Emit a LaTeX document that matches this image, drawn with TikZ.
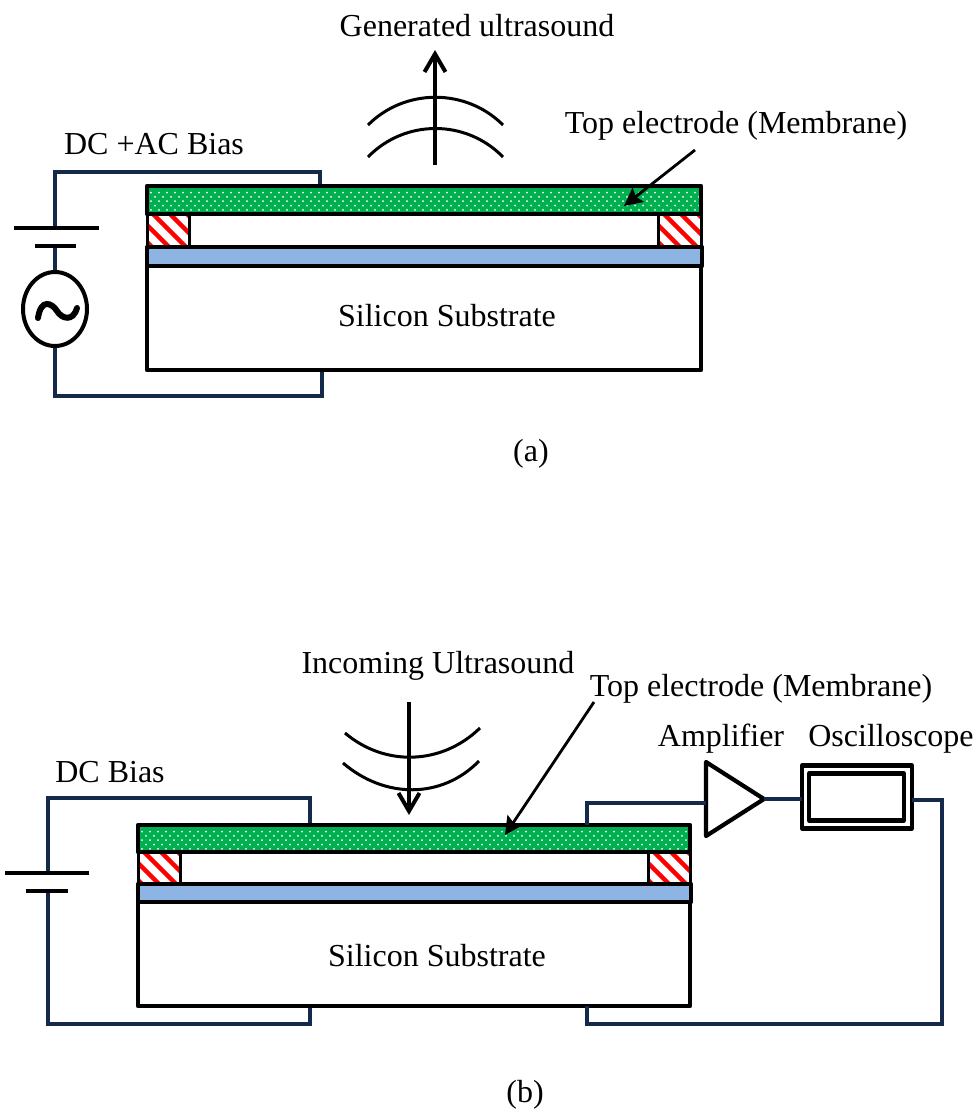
\documentclass[tikz,border=0pt]{standalone}
\usepackage{fontspec}
\setmainfont{Liberation Serif}
\usetikzlibrary{arrows.meta,shapes.geometric}
\definecolor{wirec}{HTML}{15294B}
\definecolor{memc}{HTML}{00B050}
\definecolor{bluec}{HTML}{8EB4E3}
\tikzset{
  lbl/.style={inner sep=0pt,font=\fontsize{32}{34}\selectfont,anchor=center},
  wire/.style={draw=wirec,line width=3.6pt,line join=miter},
  blk/.style={draw=black,line width=4.2pt,line join=round},
  plate/.style={draw=black,line width=4.2pt},
  wave/.style={draw=black,line width=3pt},
  bigarrow/.style={draw=black,line width=4pt,-{Straight Barb[length=18pt,width=21pt,line width=4pt]}},
  thinarrow/.style={draw=black,line width=2.8pt,-{Stealth[length=18pt,width=18pt,inset=3pt]}}
}
% #1 left, #2 right, #3 top, #4 bottom
\newcommand{\memfill}[4]{%
  \fill[memc] (#1,#3) rectangle (#2,#4);
  \begin{scope}
    \clip (#1,#3) rectangle (#2,#4);
    \foreach \yy [count=\rr] in {0,...,4}{
      \pgfmathsetmacro{\ofs}{mod(\rr,2)*4}
      \foreach \xx in {0,...,70}{
        \fill[white] ({#1+\xx*8+\ofs},{#3+6.6+\yy*4.3}) circle (1pt);
      }
    }
  \end{scope}
}
\newcommand{\postfill}[4]{%
  \fill[white] (#1,#3) rectangle (#2,#4);
  \begin{scope}
    \clip (#1,#3) rectangle (#2,#4);
    \foreach \dd in {-45,-28,...,40}{
      \draw[red,line width=4.4pt] ({#1+\dd},#3) -- ({#1+\dd+36},{#3+36});
    }
  \end{scope}
}
\begin{document}
\begin{tikzpicture}[x=1pt,y=-1pt]
\useasboundingbox (0,0) rectangle (978,1109);

% ============ (a) ============
\node[lbl] (ta1) at (477,26) {Generated ultrasound};
\node[lbl] (ta2) at (736,126) {Top electrode (Membrane)};
\node[lbl] (ta3) at (154,144) {DC +AC Bias};
\node[lbl] (ta4) at (447,316) {Silicon Substrate};
\node[lbl] (ta5) at (531,454) {(a)};

\coordinate (aTopPt) at (320,186);
\coordinate (aTopCor) at (320,172);
\coordinate (aLeftCor) at (55,172);
\coordinate (aBat1) at (55,228);
\coordinate (aBat2) at (55,246);
\coordinate (aBotCor) at (55,396);
\coordinate (aBotRight) at (322,396);
\coordinate (aBotPt) at (322,370);

\draw[wire] (aTopPt) -- (aTopCor) -- (aLeftCor) -- (aBat1);
\node[draw=black,line width=4pt,ellipse,minimum width=64pt,minimum height=74pt,inner sep=0pt,fill=white] (aAC) at (55,309) {};
\draw[wire] (aBat2) -- (aAC.north);
\draw[wire] (aAC.south) -- (aBotCor) -- (aBotRight) -- (aBotPt);
\draw[plate] (14,228) -- (99,228);
\draw[plate] (35,246) -- (76,246);
\draw[black,line width=6pt,line cap=round] (38,318) .. controls (41,298) and (52,303) .. (57,311) .. controls (62,319) and (73,322) .. (77,308);

\postfill{147}{189}{214}{247}
\postfill{658}{701}{214}{247}
\draw[blk,line width=3pt] (147,214) rectangle (189,247);
\draw[blk,line width=3pt] (658,214) rectangle (701,247);
\memfill{147}{701}{186}{214}
\node[blk,minimum width=554pt,minimum height=28pt,inner sep=0pt] (aMem) at (424,200) {};
\node[blk,fill=bluec,minimum width=555pt,minimum height=19pt,inner sep=0pt] (aBlue) at (424.5,256.5) {};
\node[blk,minimum width=554pt,minimum height=104pt,inner sep=0pt] (aSub) at (424,318) {};

\coordinate (aUp1) at (435,165);
\coordinate (aUp2) at (435,50);
\draw[bigarrow] (aUp1) -- (aUp2);
\draw[wave] (368,125) .. controls (405,88) and (466,88) .. (503,125);
\draw[wave] (368,157) .. controls (405,119) and (466,119) .. (503,157);
\coordinate (aLeadS) at (695,150);
\coordinate (aLeadE) at (624,206);
\draw[thinarrow] (aLeadS) -- (aLeadE);

% ============ (b) ============
\node[lbl] (tb1) at (438,666) {Incoming Ultrasound};
\node[lbl] (tb2) at (761,689) {Top electrode (Membrane)};
\node[lbl] (tb3) at (721,739) {Amplifier};
\node[lbl] (tb4) at (891,739) {Oscilloscope};
\node[lbl] (tb5) at (110,772) {DC Bias};
\node[lbl] (tb6) at (437,956) {Silicon Substrate};
\node[lbl] (tb7) at (525,1095) {(b)};

\coordinate (bTopPt) at (310,825);
\coordinate (bTopCor) at (310,798);
\coordinate (bLeftCor) at (48,798);
\coordinate (bBat1) at (48,873);
\coordinate (bBat2) at (48,891);
\coordinate (bBotCor) at (48,1024);
\coordinate (bBotRight) at (310,1024);
\coordinate (bBotPt) at (310,1006);
\draw[wire] (bTopPt) -- (bTopCor) -- (bLeftCor) -- (bBat1);
\draw[wire] (bBat2) -- (bBotCor) -- (bBotRight) -- (bBotPt);
\draw[plate] (5,873) -- (89,873);
\draw[plate] (26,891) -- (68,891);

\postfill{138}{180}{852}{884}
\postfill{648}{690}{852}{884}
\draw[blk,line width=3pt] (138,852) rectangle (180,884);
\draw[blk,line width=3pt] (648,852) rectangle (690,884);
\memfill{138}{690}{825}{852}
\node[blk,minimum width=552pt,minimum height=27pt,inner sep=0pt] (bMem) at (414,838.5) {};
\node[blk,fill=bluec,minimum width=553pt,minimum height=18pt,inner sep=0pt] (bBlue) at (414.5,893) {};
\node[blk,minimum width=552pt,minimum height=104pt,inner sep=0pt] (bSub) at (414,954) {};

\coordinate (bDn1) at (409,702);
\coordinate (bDn2) at (409,815);
\draw[bigarrow] (bDn1) -- (bDn2);
\draw[wave] (345,733) .. controls (385,767) and (442,765) .. (480,728);
\draw[wave] (343,763) .. controls (385,799) and (442,799) .. (479,761);
\coordinate (bLeadS) at (594,702);
\coordinate (bLeadE) at (505,835);
\draw[thinarrow] (bLeadS) -- (bLeadE);

% amplifier and oscilloscope
\coordinate (ampA) at (706,762);
\coordinate (ampB) at (706,836);
\coordinate (ampC) at (764,799);
\coordinate (ampIn) at (706,803);
\draw[blk] (ampA) -- (ampC) -- (ampB) -- cycle;
\node[blk,minimum width=110pt,minimum height=63pt,inner sep=0pt] (osc) at (857,797) {};
\node[blk,minimum width=95pt,minimum height=47pt,inner sep=0pt] (oscIn) at (856.5,797) {};
\coordinate (bRPt) at (587,825);
\coordinate (bRCor) at (587,803);
\coordinate (oscOut) at (912,800);
\coordinate (oscIn2) at (802,799);
\coordinate (bRR) at (942,800);
\coordinate (bRB) at (942,1024);
\coordinate (bRL) at (587,1024);
\coordinate (bRE) at (587,1006);
\draw[wire] (bRPt) -- (bRCor) -- (ampIn);
\draw[wire] (ampC) -- (oscIn2);
\draw[wire] (oscOut) -- (bRR) -- (bRB) -- (bRL) -- (bRE);
\end{tikzpicture}
\end{document}
